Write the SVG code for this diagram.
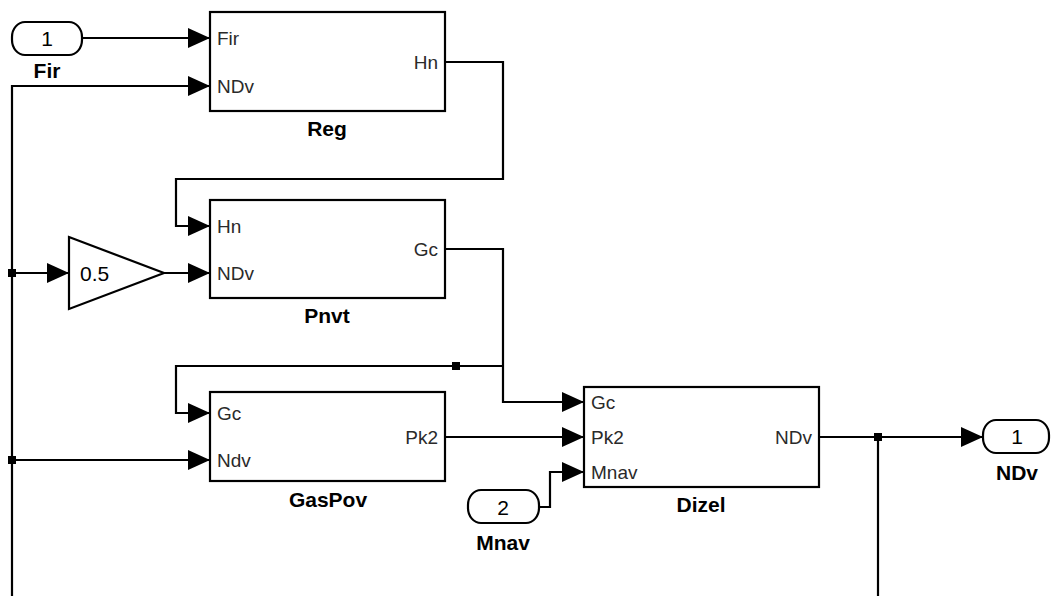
<svg xmlns="http://www.w3.org/2000/svg" width="1051" height="596" viewBox="0 0 1051 596">
<defs>
<marker id="arr" markerUnits="userSpaceOnUse" markerWidth="24" markerHeight="22" refX="22" refY="10" orient="auto">
<path d="M0,0 L22,10 L0,20 Z" fill="#000"/>
</marker>
<style>
.blk{fill:#fff;stroke:#000;stroke-width:2.2}
.ln{fill:none;stroke:#000;stroke-width:2.2}
.arr{marker-end:url(#arr)}
.port{font-family:"Liberation Sans",Arial,sans-serif;font-size:19px;fill:#2a2a2a}
.name{font-family:"Liberation Sans",Arial,sans-serif;font-size:21px;font-weight:bold;fill:#000;text-anchor:middle}
.num{font-family:"Liberation Sans",Arial,sans-serif;font-size:21px;fill:#000;text-anchor:middle}
.dot{fill:#000}
</style>
</defs>
<rect width="1051" height="596" fill="#fff"/>

<g id="connectors">
<path class="ln arr" d="M82,38 H210"/>
<path class="ln arr" d="M12,596 V86 H210"/>
<path class="ln arr" d="M445,62 H503 V179 H176 V226 H210"/>
<path class="ln arr" d="M12,273 H69"/>
<path class="ln arr" d="M164,273 H210"/>
<path class="ln arr" d="M445,249 H503 V402 H584"/>
<path class="ln arr" d="M503,366 H176 V413 H210"/>
<path class="ln arr" d="M12,460 H210"/>
<path class="ln arr" d="M445,437 H584"/>
<path class="ln arr" d="M539,507 H550 V472 H584"/>
<path class="ln arr" d="M819,437 H983"/>
<path class="ln" d="M878,437 V596"/>
<rect class="dot" x="8" y="269" width="8" height="8"/>
<rect class="dot" x="8" y="456" width="8" height="8"/>
<rect class="dot" x="452" y="362" width="8" height="8"/>
<rect class="dot" x="874" y="433" width="8" height="8"/>
</g>

<g id="in-fir">
<rect class="blk" x="12" y="22" width="70" height="33" rx="13" ry="15"/>
<text class="num" x="47" y="46">1</text>
<text class="name" x="47" y="78">Fir</text>
</g>

<g id="reg">
<rect class="blk" x="210" y="12" width="235" height="99"/>
<text class="port" x="217" y="45">Fir</text>
<text class="port" x="217" y="93">NDv</text>
<text class="port" x="438" y="69" text-anchor="end">Hn</text>
<text class="name" x="327" y="136">Reg</text>
</g>

<g id="gain">
<path class="blk" d="M69,237 L164,273 L69,309 Z"/>
<text x="80" y="281" font-family="Liberation Sans, Arial, sans-serif" font-size="21" fill="#000">0.5</text>
</g>

<g id="pnvt">
<rect class="blk" x="210" y="200" width="235" height="98"/>
<text class="port" x="217" y="233">Hn</text>
<text class="port" x="217" y="280">NDv</text>
<text class="port" x="438" y="256" text-anchor="end">Gc</text>
<text class="name" x="327" y="323">Pnvt</text>
</g>

<g id="gaspov">
<rect class="blk" x="210" y="392" width="235" height="89"/>
<text class="port" x="217" y="420">Gc</text>
<text class="port" x="217" y="467">Ndv</text>
<text class="port" x="438" y="444" text-anchor="end">Pk2</text>
<text class="name" x="328" y="507">GasPov</text>
</g>

<g id="dizel">
<rect class="blk" x="584" y="387" width="235" height="100"/>
<text class="port" x="591" y="409">Gc</text>
<text class="port" x="591" y="444">Pk2</text>
<text class="port" x="591" y="479">Mnav</text>
<text class="port" x="812" y="444" text-anchor="end">NDv</text>
<text class="name" x="701" y="512">Dizel</text>
</g>

<g id="in-mnav">
<rect class="blk" x="468" y="490" width="71" height="33" rx="13" ry="15"/>
<text class="num" x="503" y="515">2</text>
<text class="name" x="503" y="550">Mnav</text>
</g>

<g id="out-ndv">
<rect class="blk" x="983" y="420" width="66" height="33" rx="13" ry="15"/>
<text class="num" x="1017" y="444">1</text>
<text class="name" x="1017" y="480">NDv</text>
</g>
</svg>
